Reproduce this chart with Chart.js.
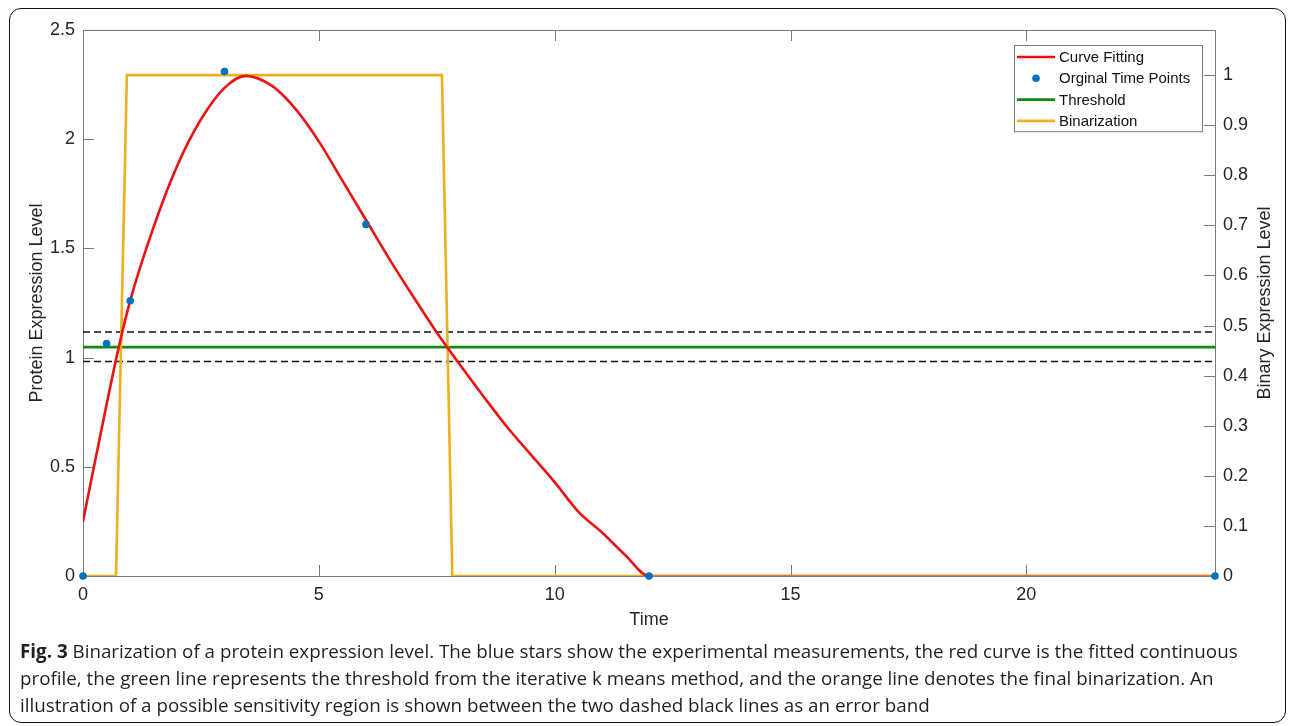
<!DOCTYPE html>
<html lang="en">
<head>
  <meta charset="UTF-8">
  <title>Binarization of a protein expression level</title>
  <script src="https://cdn.jsdelivr.net/npm/chart.js"></script>
  <style>
    body { margin: 0; background: #fff; }
    #frame { position: absolute; left: 9px; top: 8px; width: 1275px; height: 713px; border: 1.5px solid #111; border-radius: 12px; }
    #chart { position: absolute; left: 0; top: 0; }
    #caption { position: absolute; left: 20px; top: 638px; font-family: 'Open Sans', sans-serif; font-size: 18.8px; line-height: 27px; color: #231f20; white-space: nowrap; }
  </style>
</head>
<body>
  <div id="frame"></div>
  <canvas id="chart" width="1293" height="640"></canvas>
  <div id="caption">
    <b>Fig. 3</b> Binarization of a protein expression level. The blue stars show the experimental measurements, the red curve is the fitted continuous<br>
    profile, the green line represents the threshold from the iterative k means method, and the orange line denotes the final binarization. An<br>
    illustration of a possible sensitivity region is shown between the two dashed black lines as an error band
  </div>

<script>
// measured time points
const timePoints = [0, 0.5, 1, 3, 6, 12, 24];
const measured   = [0, 1.064, 1.26, 2.31, 1.61, 0, 0];

// fitted curve
const fitTime  = [0, 0.25, 0.5, 0.75, 1, 1.5, 2, 2.5, 3, 3.45, 4, 4.5, 5, 5.5, 6, 6.5, 7, 7.5, 8, 8.5, 9, 9.5, 10, 10.5, 11, 11.5, 12, 24];
const fitValue = [0.25, 0.52, 0.785, 1.04, 1.26, 1.6, 1.88, 2.09, 2.235, 2.29, 2.245, 2.14, 1.99, 1.81, 1.63, 1.45, 1.28, 1.115, 0.965, 0.82, 0.68, 0.555, 0.43, 0.295, 0.2, 0.095, 0, 0];

// binarization (right axis)
const binTime  = [0, 0.7, 0.93, 7.61, 7.83, 24];
const binValue = [0, 0, 1, 1, 0, 0];

// threshold and error band
const threshold = 1.048;
const errorBand = [0.982, 1.117];
const timeRange = [0, 24];

const leftTicks  = [0, 0.5, 1, 1.5, 2, 2.5];
const rightTicks = [0, 0.1, 0.2, 0.3, 0.4, 0.5, 0.6, 0.7, 0.8, 0.9, 1];
const timeTicks  = [0, 5, 10, 15, 20];
const legendOrder = ['Curve Fitting', 'Orginal Time Points', 'Threshold', 'Binarization'];

const axisColor = '#7a7a7a';
const textColor = '#262626';
const fontFamily = "'Liberation Sans', Arial, sans-serif";

const pts = (xs, ys) => xs.map((x, i) => ({ x, y: ys[i] }));
const hline = v => timeRange.map(x => ({ x, y: v }));
const keepTicks = list => scale => {
  scale.ticks = list.map(v => ({ value: v }));
};
const fmt = v => String(+(+v).toFixed(2));

Chart.defaults.font.family = fontFamily;
Chart.defaults.font.size = 18;
Chart.defaults.color = textColor;

// axis box with inward ticks (MATLAB style)
const axesBox = {
  id: 'axesBox',
  beforeDatasetsDraw(chart) {
    const { ctx, chartArea: a, scales } = chart;
    const L = 11;
    ctx.save();
    ctx.strokeStyle = axisColor;
    ctx.lineWidth = 1;
    ctx.strokeRect(a.left + 0.5, a.top + 0.5, a.right - a.left, a.bottom - a.top);
    ctx.beginPath();
    scales.x.ticks.forEach(t => {
      const px = Math.round(scales.x.getPixelForValue(t.value)) + 0.5;
      ctx.moveTo(px, a.bottom); ctx.lineTo(px, a.bottom - L);
      ctx.moveTo(px, a.top); ctx.lineTo(px, a.top + L);
    });
    scales.y.ticks.forEach(t => {
      const py = Math.round(scales.y.getPixelForValue(t.value)) + 0.5;
      ctx.moveTo(a.left, py); ctx.lineTo(a.left + L, py);
    });
    scales.y1.ticks.forEach(t => {
      const py = Math.round(scales.y1.getPixelForValue(t.value)) + 0.5;
      ctx.moveTo(a.right, py); ctx.lineTo(a.right - L, py);
    });
    ctx.stroke();
    ctx.restore();
  },
  afterDraw(chart) {
    const { ctx, chartArea: a, scales } = chart;
    ctx.save();
    // right axis title, reading bottom to top
    ctx.fillStyle = textColor;
    ctx.font = '18px ' + fontFamily;
    ctx.textAlign = 'center';
    ctx.textBaseline = 'middle';
    ctx.translate(scales.y1.right - 28, (a.top + a.bottom) / 2);
    ctx.rotate(-Math.PI / 2);
    ctx.fillText('Binary Expression Level', 0, 0);
    ctx.restore();

    // legend box
    const items = legendOrder.map(n => chart.data.datasets.find(d => d.label === n));
    const bx = a.right - 201, by = a.top + 15, bw = 188, rowH = 21.3;
    const bh = items.length * rowH + 1;
    ctx.save();
    ctx.fillStyle = '#fff';
    ctx.fillRect(bx, by, bw, bh);
    ctx.strokeStyle = axisColor;
    ctx.lineWidth = 1;
    ctx.strokeRect(bx + 0.5, by + 0.5, bw, bh);
    ctx.font = '15px ' + fontFamily;
    ctx.textBaseline = 'middle';
    items.forEach((d, i) => {
      const cy = by + 12 + i * rowH;
      if (d.showLine === false) {
        ctx.fillStyle = d.backgroundColor;
        ctx.beginPath();
        ctx.arc(bx + 22, cy, d.pointRadius, 0, Math.PI * 2);
        ctx.fill();
      } else {
        ctx.strokeStyle = d.borderColor;
        ctx.lineWidth = d.borderWidth;
        ctx.beginPath();
        ctx.moveTo(bx + 3, cy); ctx.lineTo(bx + 41, cy);
        ctx.stroke();
      }
      ctx.fillStyle = '#111';
      ctx.fillText(d.label, bx + 45, cy + 1);
    });
    ctx.restore();
  }
};

new Chart(document.getElementById('chart'), {
  type: 'scatter',
  data: {
    datasets: [
      {
        label: 'Orginal Time Points',
        data: pts(timePoints, measured),
        showLine: false,
        pointRadius: 3.8,
        backgroundColor: '#0072BD',
        borderColor: '#0072BD',
        borderWidth: 0,
        clip: false,
        yAxisID: 'y'
      },
      {
        label: 'Curve Fitting',
        data: pts(fitTime, fitValue),
        showLine: true,
        borderColor: '#ee1111',
        borderWidth: 2.6,
        pointRadius: 0,
        cubicInterpolationMode: 'monotone',
        segment: {
          borderColor: c => (c.p0.parsed.y === 0 && c.p1.parsed.y === 0) ? '#ec7a22' : undefined
        },
        yAxisID: 'y'
      },
      {
        label: 'Binarization',
        data: pts(binTime, binValue),
        showLine: true,
        borderColor: '#EDB120',
        borderWidth: 2.6,
        pointRadius: 0,
        tension: 0,
        yAxisID: 'y1'
      },
      {
        label: 'Threshold',
        data: hline(threshold),
        showLine: true,
        borderColor: '#138a13',
        borderWidth: 2.6,
        pointRadius: 0,
        yAxisID: 'y'
      },
      {
        label: '',
        data: hline(errorBand[0]),
        showLine: true,
        borderColor: '#111',
        borderWidth: 1.6,
        borderDash: [7, 4],
        pointRadius: 0,
        yAxisID: 'y'
      },
      {
        label: '',
        data: hline(errorBand[1]),
        showLine: true,
        borderColor: '#111',
        borderWidth: 1.6,
        borderDash: [7, 4],
        pointRadius: 0,
        yAxisID: 'y'
      }
    ]
  },
  options: {
    responsive: false,
    animation: false,
    events: [],
    layout: { padding: { top: 30, left: 0, right: 0, bottom: 0 } },
    plugins: { legend: { display: false }, tooltip: { enabled: false } },
    scales: {
      x: {
        type: 'linear',
        min: timeRange[0],
        max: timeRange[1],
        afterBuildTicks: keepTicks(timeTicks),
        afterFit: s => { s.height = 64; },
        grid: { display: false },
        border: { display: false },
        ticks: { padding: 0, maxRotation: 0, callback: fmt },
        title: { display: true, text: 'Time', font: { size: 18 }, color: textColor, padding: { top: 0, bottom: 9 } }
      },
      y: {
        position: 'left',
        min: 0,
        max: 2.5,
        afterBuildTicks: keepTicks(leftTicks),
        afterFit: s => { s.width = 83; },
        grid: { display: false },
        border: { display: false },
        ticks: { padding: 0, callback: fmt },
        title: { display: true, text: 'Protein Expression Level', font: { size: 18 }, color: textColor, padding: { top: 26, bottom: 0 } }
      },
      y1: {
        position: 'right',
        min: 0,
        max: 1.09,
        afterBuildTicks: keepTicks(rightTicks),
        afterFit: s => { s.width = 78; },
        grid: { display: false },
        border: { display: false },
        ticks: { padding: 0, callback: fmt }
      }
    }
  },
  plugins: [axesBox]
});
</script>
</body>
</html>
